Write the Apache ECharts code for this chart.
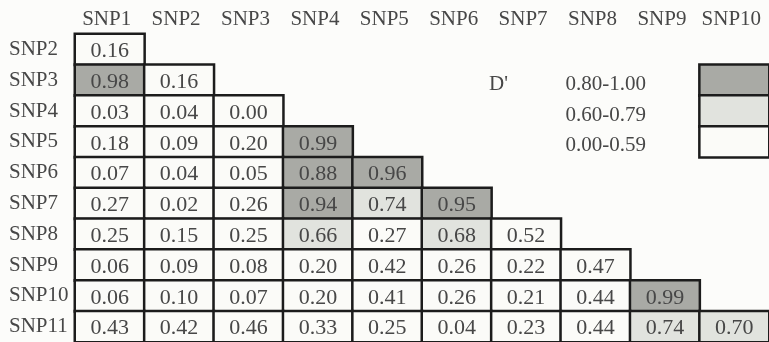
<!DOCTYPE html>
<html>
<head>
<meta charset="utf-8">
<script src="https://cdn.jsdelivr.net/npm/echarts@6/dist/echarts.min.js"></script>
<style>html,body{margin:0;padding:0;background:#fcfcfa;}#c{width:769px;height:342px;}</style>
</head>
<body>
<div id="c"></div>
<script>
const xCats = ['SNP1','SNP2','SNP3','SNP4','SNP5','SNP6','SNP7','SNP8','SNP9','SNP10'];
const yCats = ['SNP2','SNP3','SNP4','SNP5','SNP6','SNP7','SNP8','SNP9','SNP10','SNP11'];
const rowValues = [
  [0.16],
  [0.98, 0.16],
  [0.03, 0.04, 0.00],
  [0.18, 0.09, 0.20, 0.99],
  [0.07, 0.04, 0.05, 0.88, 0.96],
  [0.27, 0.02, 0.26, 0.94, 0.74, 0.95],
  [0.25, 0.15, 0.25, 0.66, 0.27, 0.68, 0.52],
  [0.06, 0.09, 0.08, 0.20, 0.42, 0.26, 0.22, 0.47],
  [0.06, 0.10, 0.07, 0.20, 0.41, 0.26, 0.21, 0.44, 0.99],
  [0.43, 0.42, 0.46, 0.33, 0.25, 0.04, 0.23, 0.44, 0.74, 0.70]
];
const legendTitle = "D'";
const legendLabels = ['0.80-1.00', '0.60-0.79', '0.00-0.59'];
const legendValues = [0.9, 0.7, 0.3];
const legendRows = ['SNP3', 'SNP4', 'SNP5'];

const cellData = [];
rowValues.forEach((r, i) => r.forEach((v, j) => cellData.push([j, i, v])));
const legendBoxData = legendValues.map((v, i) => [xCats[9], legendRows[i], v]);
const legendTextData = legendLabels.map((t, i) => ({ value: [xCats[7], legendRows[i]], name: t }));
legendTextData.push({ value: [xCats[6], legendRows[0]], name: legendTitle, label: { offset: [-37, 4] } });

const font = 'Liberation Serif, Times New Roman, serif';
const txt = '#474747';
const chart = echarts.init(document.getElementById('c'));
chart.setOption({
  backgroundColor: '#fcfcfa',
  animation: false,
  grid: { left: 75, right: 0, top: 34, height: 310 },
  xAxis: {
    type: 'category', data: xCats, position: 'top',
    axisLine: { show: false }, axisTick: { show: false }, splitLine: { show: false },
    axisLabel: { interval: 0, color: txt, fontFamily: font, fontSize: 21, margin: 4, padding: [0, 6, 0, 0] }
  },
  yAxis: {
    type: 'category', data: yCats, inverse: true,
    axisLine: { show: false }, axisTick: { show: false }, splitLine: { show: false },
    axisLabel: { interval: 0, color: txt, fontFamily: font, fontSize: 21, align: 'left', margin: 66, padding: [4, 0, 0, 0] }
  },
  visualMap: {
    show: false, type: 'piecewise', seriesIndex: [0, 1], dimension: 2,
    pieces: [
      { gte: 0.8, lte: 1.0, color: '#a9aaa5' },
      { gte: 0.6, lt: 0.8, color: '#e1e3de' },
      { gte: 0, lt: 0.6, color: '#fbfbf8' }
    ]
  },
  series: [
    {
      type: 'heatmap', data: cellData,
      itemStyle: { borderColor: '#1c1c1c', borderWidth: 2.5 },
      label: { show: true, color: txt, fontFamily: font, fontSize: 22, offset: [0, 2],
        formatter: p => p.value[2].toFixed(2) },
      emphasis: { disabled: true }
    },
    {
      type: 'heatmap', data: legendBoxData,
      itemStyle: { borderColor: '#1c1c1c', borderWidth: 2.5 },
      label: { show: false },
      emphasis: { disabled: true }
    },
    {
      type: 'scatter', data: legendTextData, symbolSize: 1,
      itemStyle: { color: '#fcfcfa', opacity: 1 },
      label: { show: true, position: 'inside', align: 'left', color: txt, opacity: 1, fontFamily: font, fontSize: 21,
        formatter: p => p.name,
        offset: [-30, 4] },
      emphasis: { disabled: true }
    }
  ]
});
</script>
</body>
</html>
